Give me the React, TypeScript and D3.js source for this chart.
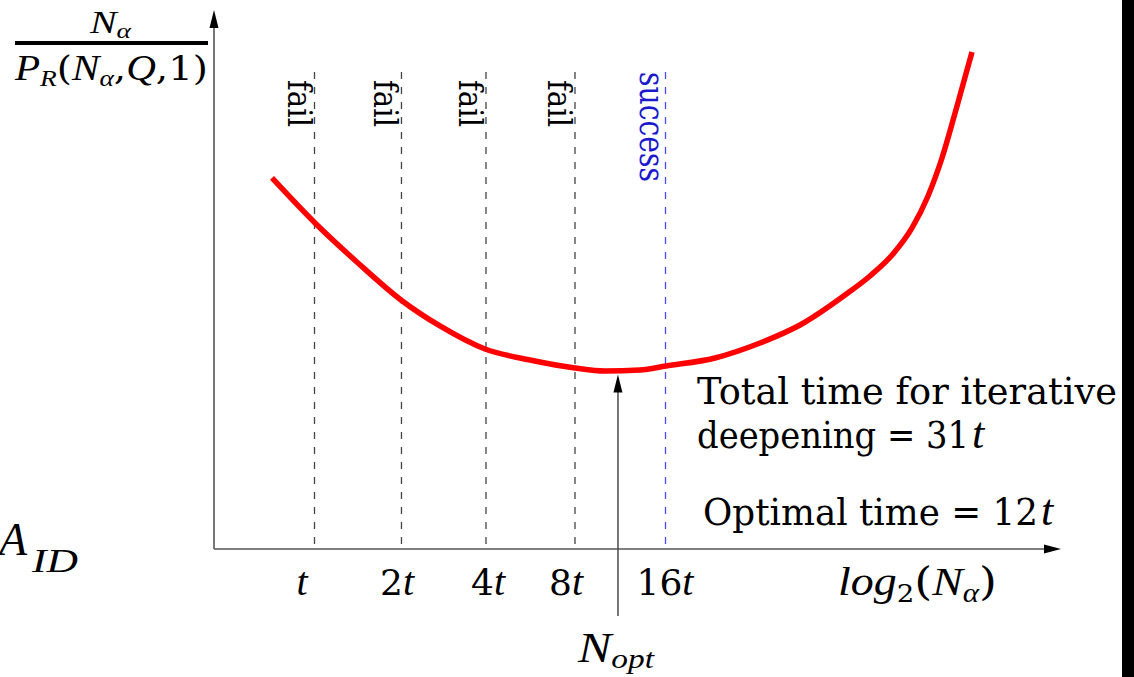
import React from "react";
import * as d3 from "d3";

// Horizontal position is log2(N_alpha) in chart units, vertical is cost per success.
const iterationX = [1.188, 2.216, 3.215, 4.267, 5.337];
const iterationOutcome = ["fail", "fail", "fail", "fail", "success"];
const tickLabels = ["t", "2t", "4t", "8t", "16t"];
const tickLabelX = [1.04, 2.163, 3.239, 4.161, 5.331];

const curveX = [0.686, 1.194, 1.702, 2.21, 2.671, 3.203, 3.735, 4.267, 4.622, 5.035, 5.343, 5.922, 6.454, 6.927, 7.459, 7.754, 8.026, 8.251, 8.44, 8.605, 8.783, 8.96];
const curveY = [6.909, 6.071, 5.326, 4.637, 4.153, 3.724, 3.52, 3.371, 3.315, 3.333, 3.408, 3.557, 3.836, 4.171, 4.73, 5.084, 5.493, 5.978, 6.574, 7.281, 8.25, 9.255];

const nOptX = 4.775;
const nOptY = 3.25;

const W = 1134;
const H = 677;
const FONT = "'DejaVu Serif', serif";
const ITALIC = "'Liberation Serif', 'DejaVu Serif', serif";

export default function App() {
  const x = d3.scaleLinear().domain([0, 10]).range([214, 1060]);
  const y = d3.scaleLinear().domain([0, 10]).range([549, 12]);

  const pts: [number, number][] = curveX.map((v, i) => [v, curveY[i]]);
  const line = d3
    .line<[number, number]>()
    .x((d) => x(d[0]))
    .y((d) => y(d[1]))
    .curve(d3.curveMonotoneX);

  const x0 = x(0);
  const y0 = y(0);
  const xEnd = x(10);
  const yTop = y(10);
  const dashTop = 72;
  const axisColor = "#555";
  const it = { fontStyle: "italic", fontFamily: ITALIC } as React.CSSProperties;

  return (
    <svg
      width={W}
      height={H}
      viewBox={`0 0 ${W} ${H}`}
      style={{ position: "absolute", left: 0, top: 0, background: "#fff", fontFamily: FONT }}
    >
      {/* iteration boundaries */}
      {iterationX.map((v, i) => (
        <line
          key={"d" + i}
          x1={x(v)}
          x2={x(v)}
          y1={dashTop}
          y2={y0}
          stroke={iterationOutcome[i] === "success" ? "#4b4bff" : "#444"}
          strokeWidth={1.3}
          strokeDasharray="7,8"
        />
      ))}
      {iterationOutcome.map((lab, i) => {
        const isOk = lab === "success";
        const tx = x(iterationX[i]) - (isOk ? 26 : 27);
        const ty = isOk ? 72 : 80;
        return (
          <text
            key={"o" + i}
            transform={`translate(${tx},${ty}) rotate(90)`}
            fontSize={isOk ? 36 : 34}
            fill={isOk ? "#1a1acc" : "#000"}
            textLength={isOk ? 110 : 47}
            lengthAdjust="spacingAndGlyphs"
          >
            {lab}
          </text>
        );
      })}

      {/* axes */}
      <line x1={x0} x2={x0} y1={y0} y2={yTop + 14} stroke={axisColor} strokeWidth={1.6} />
      <path d={`M${x0},${yTop - 2} L${x0 - 4.5},${yTop + 16} L${x0 + 4.5},${yTop + 16} Z`} fill="#000" />
      <line x1={x0} x2={xEnd - 14} y1={y0} y2={y0} stroke={axisColor} strokeWidth={1.6} />
      <path d={`M${xEnd + 1},${y0} L${xEnd - 16},${y0 - 4.5} L${xEnd - 16},${y0 + 4.5} Z`} fill="#000" />

      {/* cost curve */}
      <path d={line(pts) || ""} fill="none" stroke="#ff0000" strokeWidth={5.5} />

      {/* N_opt marker */}
      <line x1={x(nOptX)} x2={x(nOptX)} y1={616} y2={y(nOptY) + 14} stroke={axisColor} strokeWidth={1.6} />
      <path
        d={`M${x(nOptX)},${y(nOptY)} L${x(nOptX) - 4.5},${y(nOptY) + 18} L${x(nOptX) + 4.5},${y(nOptY) + 18} Z`}
        fill="#000"
      />
      <text x={578} y={662} fontSize={42} textLength={76} lengthAdjust="spacingAndGlyphs" style={it}>
        <tspan>N</tspan>
        <tspan fontSize={28} dy={6}>opt</tspan>
      </text>

      {/* tick labels */}
      {tickLabels.map((lab, i) => {
        const num = lab.slice(0, -1);
        return (
          <text key={"t" + i} x={x(tickLabelX[i])} y={595} fontSize={36} textAnchor="middle">
            {num && <tspan>{num}</tspan>}
            <tspan style={it} fontSize={40}>t</tspan>
          </text>
        );
      })}
      <text x={838} y={595} fontSize={40} textLength={159} lengthAdjust="spacingAndGlyphs">
        <tspan style={it}>log</tspan>
        <tspan fontSize={24} dy={7}>2</tspan>
        <tspan dy={-7}>(</tspan>
        <tspan style={it}>N</tspan>
        <tspan style={it} fontSize={27} dy={7}>α</tspan>
        <tspan dy={-7}>)</tspan>
      </text>

      {/* y-axis label */}
      <text x={90} y={33} fontSize={32} textLength={41} lengthAdjust="spacingAndGlyphs" style={it}>
        <tspan>N</tspan>
        <tspan fontSize={22} dy={5}>α</tspan>
      </text>
      <rect x={15} y={41} width={193} height={4} fill="#000" />
      <text x={15} y={80} fontSize={34} textLength={193} lengthAdjust="spacingAndGlyphs">
        <tspan style={it} fontSize={36}>P</tspan>
        <tspan style={it} fontSize={24} dy={6}>R</tspan>
        <tspan dy={-6}>(</tspan>
        <tspan style={it} fontSize={36}>N</tspan>
        <tspan style={it} fontSize={24} dy={6}>α</tspan>
        <tspan dy={-6}>,</tspan>
        <tspan style={it} fontSize={36}>Q</tspan>
        <tspan>,1)</tspan>
      </text>

      {/* annotations */}
      <text x={697} y={404} fontSize={37} textLength={420} lengthAdjust="spacingAndGlyphs">
        Total time for iterative
      </text>
      <text x={697} y={448} fontSize={37}>
        <tspan textLength={272} lengthAdjust="spacingAndGlyphs">deepening = 31</tspan>
        <tspan style={it} fontSize={44} dx={3}>t</tspan>
      </text>
      <text x={703} y={525} fontSize={37}>
        <tspan textLength={335} lengthAdjust="spacingAndGlyphs">Optimal time = 12</tspan>
        <tspan style={it} fontSize={44} dx={3}>t</tspan>
      </text>

      <text x={-1} y={555} fontSize={46} style={it}>A</text>
      <text x={32} y={572} fontSize={33} textLength={46} lengthAdjust="spacingAndGlyphs" style={it}>ID</text>

      <rect x={1122} y={0} width={12} height={H} fill="#000" />
    </svg>
  );
}
